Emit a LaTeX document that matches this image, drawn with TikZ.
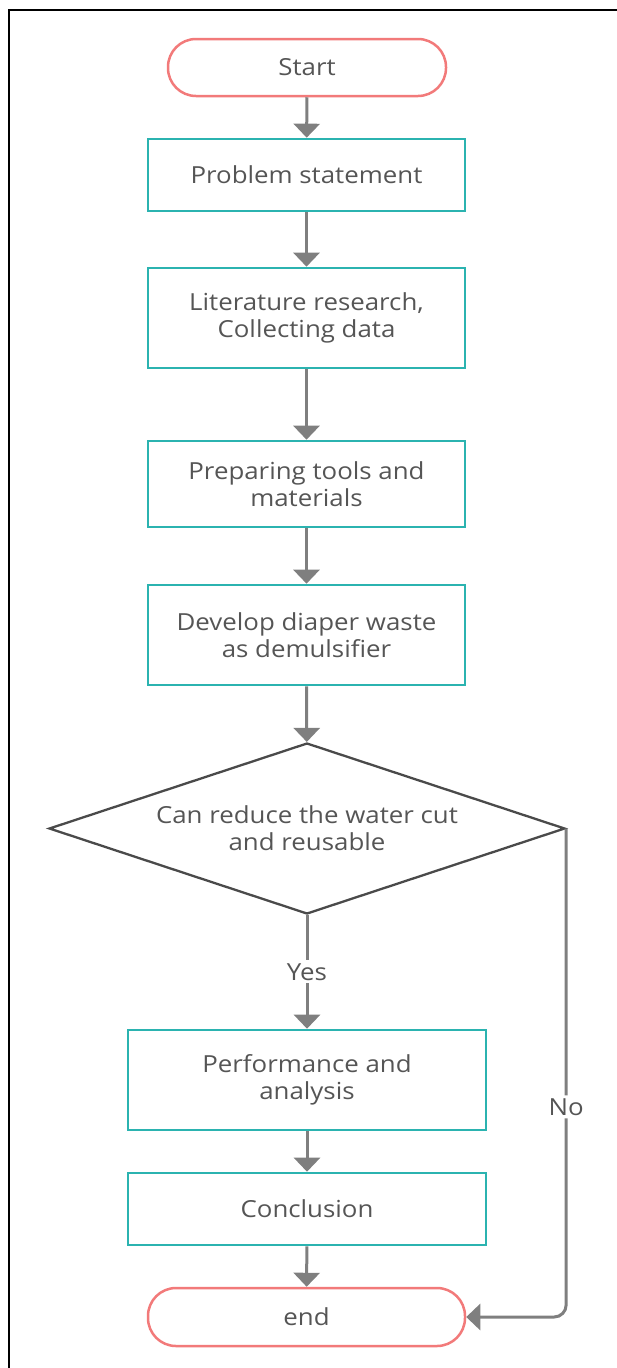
\documentclass[tikz,border=0pt]{standalone}
\usepackage{fontspec}
\setmainfont{Open Sans}[FakeStretch=1.1]
\usetikzlibrary{shapes.geometric,arrows.meta}
\definecolor{teal1}{HTML}{2BB3B0}
\definecolor{red1}{HTML}{F27A7A}
\definecolor{txt}{HTML}{555555}
\definecolor{arr}{HTML}{7F7F7F}
\definecolor{dia}{HTML}{4A4A4A}
\begin{document}
\begin{tikzpicture}[x=1pt,y=-1pt,
  every node/.style={font=\fontsize{23.5}{27}\selectfont, text=txt, align=center},
  term/.style={draw=red1, line width=2.5pt, rounded corners=28pt, inner sep=0pt},
  proc/.style={draw=teal1, line width=2.6pt, inner sep=0pt},
  decis/.style={draw=dia, line width=2.3pt, diamond, aspect=3.02, inner sep=0pt},
  conn/.style={draw=arr, line width=3pt, -{Triangle[width=26pt,length=14pt]}},
  ]
\useasboundingbox (0,0) rectangle (616,1368);
\draw[line width=2pt] (8.5,1380) -- (8.5,9.5) -- (630,9.5);
\node[term, minimum width=278pt, minimum height=57pt] (start) at (307,67.5) {Start};
\node[proc, minimum width=317pt, minimum height=72pt] (ps) at (306.5,175) {Problem statement};
\node[proc, minimum width=317pt, minimum height=100pt] (lit) at (306.5,318) {Literature research,\\Collecting data};
\node[proc, minimum width=317pt, minimum height=86pt] (prep) at (306.5,484) {Preparing tools and\\materials};
\node[proc, minimum width=317pt, minimum height=100pt] (dev) at (306.5,635) {Develop diaper waste\\as demulsifier};
\node[decis, minimum width=516pt, minimum height=171pt] (dec) at (307,828.5) {};
\node at (307,828.5) {Can reduce the water cut\\and reusable};
\node[proc, minimum width=358pt, minimum height=100pt] (perf) at (307,1080) {Performance and\\analysis};
\node[proc, minimum width=358pt, minimum height=72pt] (conc) at (307,1209) {Conclusion};
\node[term, minimum width=317pt, minimum height=58pt] (end) at (306.5,1317) {end};
\draw[conn] (start) -- (ps);
\draw[conn] (ps) -- (lit);
\draw[conn] (lit) -- (prep);
\draw[conn] (prep) -- (dev);
\draw[conn] (dev) -- (dec);
\draw[conn] (dec.south) -- node[fill=white, inner sep=3pt] {Yes} (perf.north);
\draw[conn] (perf) -- (conc);
\draw[conn] (conc) -- (end);
\coordinate (c1) at (dec.east |- end.east);
\draw[conn, rounded corners=12pt] (dec.east) -- node[fill=white, inner sep=3pt, pos=0.57] {No} (c1) -- (end.east);
\end{tikzpicture}
\end{document}
